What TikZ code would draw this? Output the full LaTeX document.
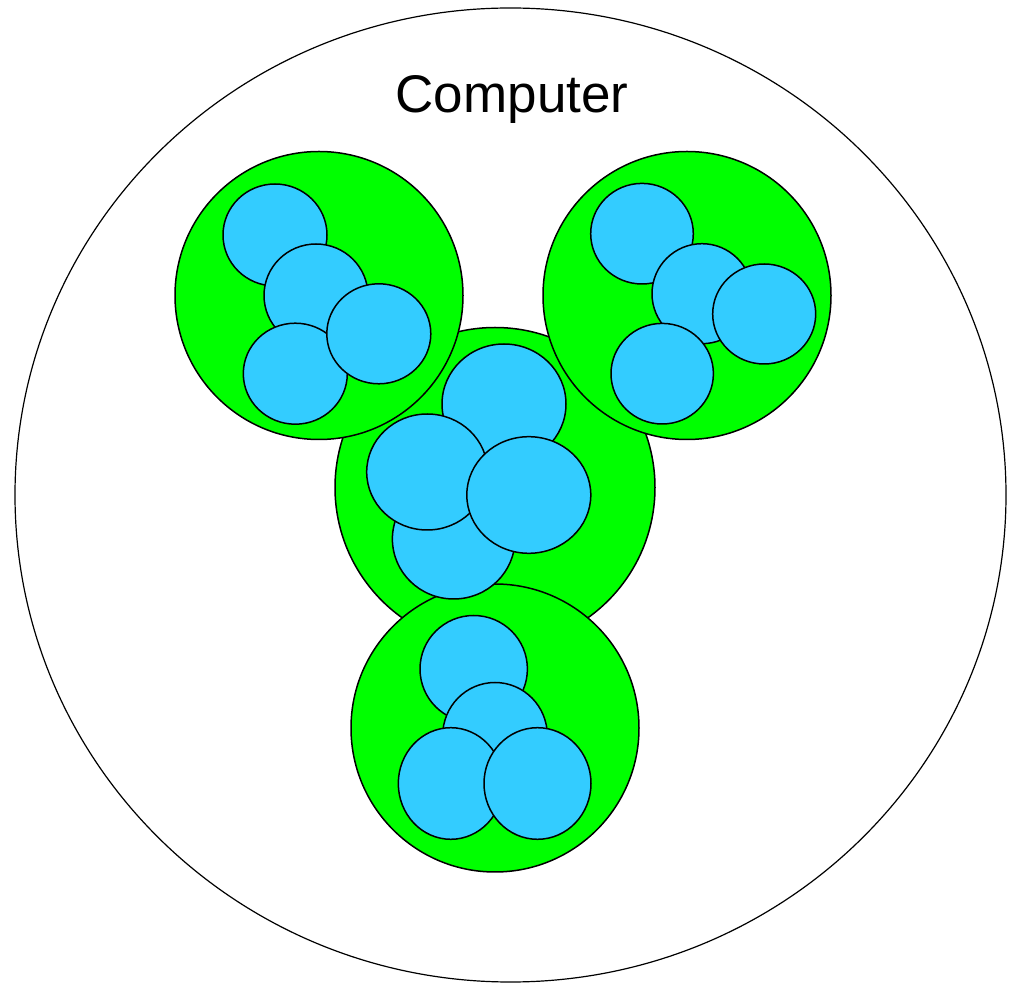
\documentclass[tikz,border=0pt]{standalone}
\usepackage{fontspec}
\setmainfont{Liberation Sans}
\usetikzlibrary{shapes.geometric}

\definecolor{cellgreen}{RGB}{0,255,0}
\definecolor{cellblue}{RGB}{51,204,255}

\begin{document}
\begin{tikzpicture}[
    x=0.5pt, y=-0.5pt,
    % --- Style Definitions ---
    outline/.style={
        ellipse, draw=black, line width=0.75pt,
        inner sep=0pt, outer sep=0pt
    },
    host/.style={outline, fill=white, line width=0.6pt},
    group/.style={outline, fill=cellgreen, minimum width=#1pt, minimum height=#1pt},
    proc/.style 2 args={outline, fill=cellblue, minimum width=#1pt, minimum height=#2pt},
    title/.style={font=\fontsize{26.5}{30}\selectfont, anchor=base, inner sep=0pt}
]
\useasboundingbox (0,0) rectangle (1013,983);

% ================= Outer Machine =================
\node[host, minimum width=495.5pt, minimum height=487pt] (computer) at (510.5,495) {};
\node[title] (label) at (512,113) {Computer};

% ================= Green Groups =================
\node[group=160] (gmid) at (495,487.5) {};
\node[group=144] (gbot) at (495,728) {};
\node[group=144] (gleft) at (319,295.5) {};
\node[group=144] (gright) at (687,295.5) {};

% ================= Left Group =================
\node[proc={52}{51}] (l1) at (275,235) {};
\node[proc={52}{51.5}] (l2) at (316,295.5) {};
\node[proc={52}{50.5}] (l4) at (295.3,373.7) {};
\node[proc={52}{50}] (l3) at (378.8,333.8) {};

% ================= Right Group =================
\node[proc={51.3}{50.3}] (r1) at (642,233.7) {};
\node[proc={50}{50}] (r2) at (702,293.7) {};
\node[proc={51.5}{50}] (r3) at (764.2,314) {};
\node[proc={51.2}{50.3}] (r4) at (662.2,373.7) {};

% ================= Middle Group =================
\node[proc={62}{60}] (m1) at (504,404) {};
\node[proc={61.3}{60}] (m4) at (453.7,539) {};
\node[proc={60.5}{58}] (m2) at (427.2,472) {};
\node[proc={62}{58.3}] (m3) at (528.8,495) {};

% ================= Bottom Group =================
\node[proc={53.7}{53.5}] (b1) at (473.7,669) {};
\node[proc={52.3}{53}] (b2) at (495,735.5) {};
\node[proc={52.5}{55.8}] (b3) at (450.8,783.5) {};
\node[proc={53.5}{55.8}] (b4) at (537.5,783.5) {};

\end{tikzpicture}
\end{document}
